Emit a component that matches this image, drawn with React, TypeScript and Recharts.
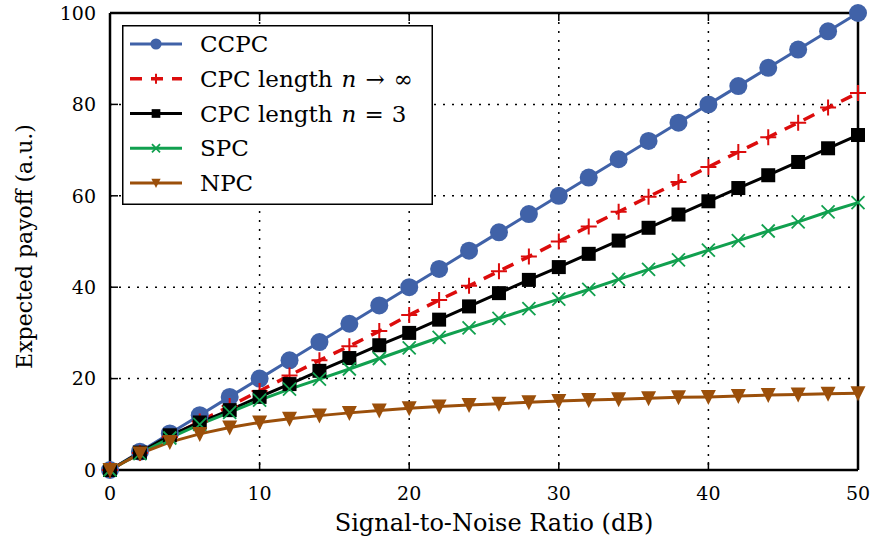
import React from 'react';
import { LineChart, Line, XAxis, YAxis, CartesianGrid, Legend } from 'recharts';

// SNR (dB)
const snr = [0, 2, 4, 6, 8, 10, 12, 14, 16, 18, 20, 22, 24, 26, 28, 30, 32, 34, 36, 38, 40, 42, 44, 46, 48, 50];
const ccpc = [0, 4, 8, 12, 16, 20, 24, 28, 32, 36, 40, 44, 48, 52, 56, 60, 64, 68, 72, 76, 80, 84, 88, 92, 96, 100];
const cpcInf = [0, 3.7, 7.2, 10.6, 14.0, 17.3, 20.7, 24.0, 27.1, 30.4, 33.9, 37.2, 40.3, 43.5, 46.7, 50.0, 53.3, 56.5, 59.8, 63.0, 66.3, 69.6, 72.8, 76.0, 79.3, 82.5];
const cpc3 = [0, 3.8, 7.6, 10.4, 13.1, 16.0, 18.8, 21.7, 24.5, 27.3, 30.0, 32.9, 35.8, 38.7, 41.6, 44.4, 47.3, 50.2, 53.0, 55.9, 58.8, 61.7, 64.5, 67.4, 70.4, 73.3];
const spc = [0, 3.6, 7.0, 10.0, 12.6, 15.3, 17.7, 19.9, 22.1, 24.4, 26.7, 29.0, 31.1, 33.2, 35.3, 37.4, 39.5, 41.7, 43.9, 46.0, 48.1, 50.2, 52.3, 54.3, 56.5, 58.5];
const npc = [0, 3.6, 6.1, 7.9, 9.3, 10.4, 11.2, 11.9, 12.5, 13.0, 13.5, 13.9, 14.2, 14.5, 14.8, 15.1, 15.3, 15.5, 15.7, 15.9, 16.0, 16.2, 16.4, 16.5, 16.7, 16.8];

const xTicks = [0, 10, 20, 30, 40, 50];
const yTicks = [0, 20, 40, 60, 80, 100];

const FONT = '"DejaVu Serif", serif';

type Kind = 'circle' | 'plus' | 'square' | 'x' | 'tri';

interface Series {
  key: string;
  name: React.ReactNode;
  color: string;
  marker: Kind;
  dash?: string;
  width: number;
}

const series: Series[] = [
  { key: 'ccpc', name: 'CCPC', color: '#4062a8', marker: 'circle', width: 3 },
  {
    key: 'cpcInf',
    name: (
      <>
        CPC length
        <tspan dx={9} fontStyle="italic">n</tspan>
        <tspan dx={9}>→</tspan>
        <tspan dx={9}>∞</tspan>
      </>
    ),
    color: '#dc0c0c',
    marker: 'plus',
    dash: '12 9',
    width: 3.5,
  },
  {
    key: 'cpc3',
    name: (
      <>
        CPC length
        <tspan dx={9} fontStyle="italic">n</tspan>
        <tspan dx={8}>=</tspan>
        <tspan dx={8}>3</tspan>
      </>
    ),
    color: '#000000',
    marker: 'square',
    width: 3,
  },
  { key: 'spc', name: 'SPC', color: '#11a04f', marker: 'x', width: 3 },
  { key: 'npc', name: 'NPC', color: '#9b4f0a', marker: 'tri', width: 3 },
];

const data = snr.map((s, i) => ({
  snr: s,
  ccpc: ccpc[i],
  cpcInf: cpcInf[i],
  cpc3: cpc3[i],
  spc: spc[i],
  npc: npc[i],
}));

function Marker({ kind, cx, cy, color, s = 1 }: { kind: Kind; cx: number; cy: number; color: string; s?: number }) {
  switch (kind) {
    case 'circle':
      return <circle cx={cx} cy={cy} r={9 * s} fill={color} />;
    case 'plus':
      return (
        <path
          d={`M${cx - 8 * s},${cy}H${cx + 8 * s}M${cx},${cy - 8 * s}V${cy + 8 * s}`}
          stroke={color}
          strokeWidth={2}
          fill="none"
        />
      );
    case 'square':
      return <rect x={cx - 7 * s} y={cy - 7 * s} width={14 * s} height={14 * s} fill={color} />;
    case 'x':
      return (
        <path
          d={`M${cx - 6.5 * s},${cy - 6.5 * s}L${cx + 6.5 * s},${cy + 6.5 * s}M${cx - 6.5 * s},${cy + 6.5 * s}L${cx + 6.5 * s},${cy - 6.5 * s}`}
          stroke={color}
          strokeWidth={1.8}
          fill="none"
        />
      );
    case 'tri':
    default:
      return (
        <path
          d={`M${cx - 7.5 * s},${cy - 7 * s}L${cx + 7.5 * s},${cy - 7 * s}L${cx},${cy + 8 * s}Z`}
          fill={color}
        />
      );
  }
}

const LEG_W = 311;
const LEG_H = 180;

function LegendBox() {
  const rowH = 34.75;
  return (
    <svg width={LEG_W} height={LEG_H} style={{ display: 'block' }}>
      <rect x={0.75} y={0.75} width={LEG_W - 1.5} height={LEG_H - 1.5} fill="#fff" stroke="#000" strokeWidth={1.5} />
      {series.map((sr, i) => {
        const cy = 19 + i * rowH;
        return (
          <g key={sr.key}>
            <line
              x1={8}
              x2={60}
              y1={cy}
              y2={cy}
              stroke={sr.color}
              strokeWidth={sr.width}
              strokeDasharray={sr.dash}
            />
            <Marker kind={sr.marker} cx={34} cy={cy} color={sr.color} s={0.62} />
            <text x={78} y={cy + 8} fontFamily={FONT} fontSize={23} fill="#000">
              {sr.name}
            </text>
          </g>
        );
      })}
    </svg>
  );
}

const tickStyle = { fontFamily: FONT, fontSize: 19, fill: '#000' };

export default function App() {
  return (
    <div style={{ position: 'absolute', left: 0, top: 0, width: 872, height: 543, background: '#fff' }}>
      <LineChart width={872} height={543} data={data} margin={{ top: 12, right: 13, bottom: 0, left: 0 }}>
        <CartesianGrid stroke="#000" strokeWidth={1.5} strokeDasharray="2 7" />
        <XAxis
          dataKey="snr"
          type="number"
          domain={[0, 50]}
          ticks={xTicks}
          height={73}
          tickSize={-8}
          tickMargin={25}
          tick={tickStyle}
          axisLine={{ stroke: '#000', strokeWidth: 2.5 }}
          tickLine={{ stroke: '#000', strokeWidth: 1.5 }}
          label={{
            value: 'Signal-to-Noise Ratio (dB)',
            position: 'insideBottom',
            offset: 12,
            dx: 10,
            style: { fontFamily: FONT, fontSize: 24, fill: '#000' },
          }}
        />
        <XAxis
          xAxisId="top"
          orientation="top"
          dataKey="snr"
          type="number"
          domain={[0, 50]}
          ticks={xTicks}
          height={1}
          tickSize={-8}
          tickFormatter={() => ''}
          axisLine={{ stroke: '#000', strokeWidth: 2.5 }}
          tickLine={{ stroke: '#000', strokeWidth: 1.5 }}
        />
        <YAxis
          type="number"
          domain={[0, 100]}
          ticks={yTicks}
          width={110}
          tickSize={-8}
          tickMargin={22}
          tick={tickStyle}
          axisLine={{ stroke: '#000', strokeWidth: 2.5 }}
          tickLine={{ stroke: '#000', strokeWidth: 1.5 }}
          label={{
            value: 'Expected payoff (a.u.)',
            angle: -90,
            position: 'center',
            dx: -31,
            dy: 5,
            style: { fontFamily: FONT, fontSize: 22, fill: '#000', textAnchor: 'middle' },
          }}
        />
        <YAxis
          yAxisId="right"
          orientation="right"
          type="number"
          domain={[0, 100]}
          ticks={yTicks}
          width={1}
          tickSize={-8}
          tickFormatter={() => ''}
          axisLine={{ stroke: '#000', strokeWidth: 2.5 }}
          tickLine={{ stroke: '#000', strokeWidth: 1.5 }}
        />
        {series.map((sr) => (
          <Line
            key={sr.key}
            dataKey={sr.key}
            type="linear"
            stroke={sr.color}
            strokeWidth={sr.width}
            strokeDasharray={sr.dash}
            isAnimationActive={false}
            dot={(p: any) => {
              if (p.cx == null || p.cy == null) return <g key={`${sr.key}-${p.index}`} />;
              return (
                <g key={`${sr.key}-${p.index}`}>
                  <Marker kind={sr.marker} cx={p.cx} cy={p.cy} color={sr.color} />
                </g>
              );
            }}
            activeDot={false}
          />
        ))}
        <Legend
          layout="vertical"
          align="center"
          verticalAlign="middle"
          wrapperStyle={{ left: 122, top: 25, width: LEG_W, height: LEG_H, margin: 0, padding: 0 }}
          content={() => <LegendBox />}
        />
      </LineChart>
    </div>
  );
}
